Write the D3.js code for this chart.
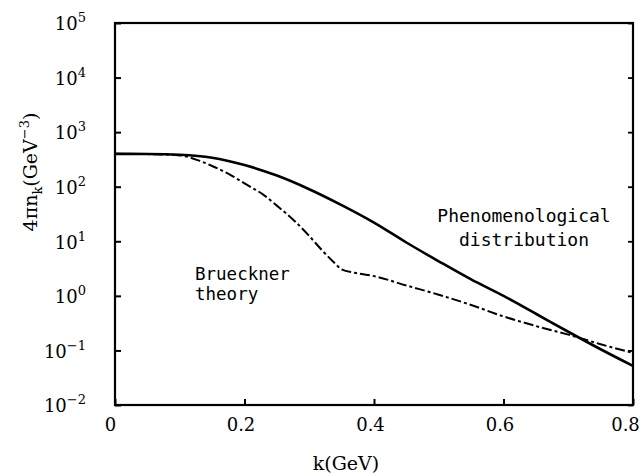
<!DOCTYPE html>
<html>
<head>
<meta charset="utf-8">
<script src="https://cdn.jsdelivr.net/npm/d3@7"></script>
<style>
  html, body { margin: 0; padding: 0; background: #fff; }
  svg { display: block; }
</style>
</head>
<body>
<svg id="chart" width="643" height="476"></svg>
<script>
// Momentum distribution 4πn_k versus k
const kPheno  = [0, 0.05, 0.1, 0.15, 0.2, 0.25, 0.3, 0.35, 0.4, 0.45, 0.5, 0.55, 0.6, 0.65, 0.7, 0.75, 0.8];
const nPheno  = [400, 398, 385, 340, 250, 160, 90, 46, 22, 9.5, 4.3, 2.0, 1.0, 0.47, 0.22, 0.105, 0.052];

const kBrueck = [0, 0.05, 0.1, 0.13, 0.15, 0.18, 0.2, 0.23, 0.25, 0.28, 0.3, 0.32, 0.34, 0.35, 0.37, 0.4, 0.45, 0.5, 0.55, 0.6, 0.65, 0.7, 0.75, 0.8];
const nBrueck = [400, 396, 375, 300, 240, 160, 115, 70, 45, 22, 12.5, 6.8, 3.9, 3.05, 2.65, 2.3, 1.55, 1.05, 0.68, 0.42, 0.28, 0.195, 0.13, 0.09];

const xTicks = [0, 0.2, 0.4, 0.6, 0.8];
const xTickLabels = ["0", "0.2", "0.4", "0.6", "0.8"];
const yTicks = [1e-2, 1e-1, 1e0, 1e1, 1e2, 1e3, 1e4, 1e5];
const yExponents = ["\u22122", "\u22121", "0", "1", "2", "3", "4", "5"];

const svg = d3.select("#chart");
const L = 115, R = 633, T = 23, B = 405;

const x = d3.scaleLinear().domain([0, 0.8]).range([L, R]);
const y = d3.scaleLog().domain([1e-2, 1e5]).range([B, T]);

const serif = "'DejaVu Serif', serif";
const mono = "'DejaVu Sans Mono', monospace";

// Left axis: inward ticks, labels as 10 with superscript exponent
const yAxis = d3.axisLeft(y).tickValues(yTicks).tickSizeInner(-6).tickSizeOuter(0).tickPadding(29).tickFormat(() => "");
const gy = svg.append("g").attr("transform", `translate(${L},0)`).call(yAxis);
gy.select(".domain").remove();
gy.selectAll(".tick line").attr("stroke", "#000").attr("stroke-width", 2);
gy.selectAll(".tick text").each(function(d, i) {
  const t = d3.select(this)
    .attr("font-family", serif).attr("font-size", 18).attr("fill", "#000")
    .attr("dy", "0.38em");
  t.append("tspan").text("10");
  t.append("tspan").attr("font-size", 13).attr("dy", -8).text(yExponents[i]);
});

// Right axis: inward ticks only
const yAxisR = d3.axisRight(y).tickValues(yTicks).tickSizeInner(-5).tickSizeOuter(0).tickFormat(() => "");
const gyr = svg.append("g").attr("transform", `translate(${R},0)`).call(yAxisR);
gyr.select(".domain").remove();
gyr.selectAll(".tick line").attr("stroke", "#000").attr("stroke-width", 1.8);

// Bottom axis
const xAxis = d3.axisBottom(x).tickValues(xTicks).tickSizeInner(-6).tickSizeOuter(0).tickPadding(13)
  .tickFormat((d, i) => xTickLabels[i]);
const gx = svg.append("g").attr("transform", `translate(0,${B})`).call(xAxis);
gx.select(".domain").remove();
gx.selectAll(".tick line").attr("stroke", "#000").attr("stroke-width", 2);
gx.selectAll(".tick text")
  .attr("font-family", serif).attr("font-size", 18).attr("fill", "#000")
  .attr("dx", (d, i) => i === 0 ? -5 : (i === xTicks.length - 1 ? -8 : -4));

// Frame
svg.append("rect")
  .attr("x", L).attr("y", T).attr("width", R - L).attr("height", B - T)
  .attr("fill", "none").attr("stroke", "#000").attr("stroke-width", 2.2);

// Axis titles
svg.append("text")
  .attr("x", (L + R) / 2 - 28).attr("y", 470)
  .attr("text-anchor", "middle")
  .attr("font-family", serif).attr("font-size", 19).attr("fill", "#000")
  .text("k(GeV)");

const yt = svg.append("text")
  .attr("transform", "translate(37,172) rotate(-90)")
  .attr("text-anchor", "middle")
  .attr("font-family", serif).attr("font-size", 19).attr("fill", "#000");
yt.append("tspan").text("4\u03c0n");
yt.append("tspan").attr("font-size", 13).attr("dy", 5).text("k");
yt.append("tspan").attr("dy", -5).text("(GeV");
yt.append("tspan").attr("font-size", 13).attr("dy", -8).text("\u22123");
yt.append("tspan").attr("dy", 8).text(")");

// Curves
const line = d3.line().x(d => x(d[0])).y(d => y(d[1])).curve(d3.curveMonotoneX);

svg.append("path")
  .datum(d3.zip(kBrueck, nBrueck))
  .attr("d", line)
  .attr("fill", "none").attr("stroke", "#000").attr("stroke-width", 2)
  .attr("stroke-dasharray", "10,3,3,3");

svg.append("path")
  .datum(d3.zip(kPheno, nPheno))
  .attr("d", line)
  .attr("fill", "none").attr("stroke", "#000").attr("stroke-width", 2.6);

// Annotations
const a1 = svg.append("text")
  .attr("font-family", mono).attr("font-size", 17.5).attr("fill", "#000");
a1.append("tspan").attr("x", 195).attr("y", 280).text("Brueckner");
a1.append("tspan").attr("x", 195).attr("y", 300).text("theory");

const a2 = svg.append("text")
  .attr("font-family", mono).attr("font-size", 18).attr("fill", "#000")
  .attr("text-anchor", "middle");
a2.append("tspan").attr("x", 524).attr("y", 222).text("Phenomenological");
a2.append("tspan").attr("x", 524).attr("y", 246).text("distribution");
</script>
</body>
</html>
